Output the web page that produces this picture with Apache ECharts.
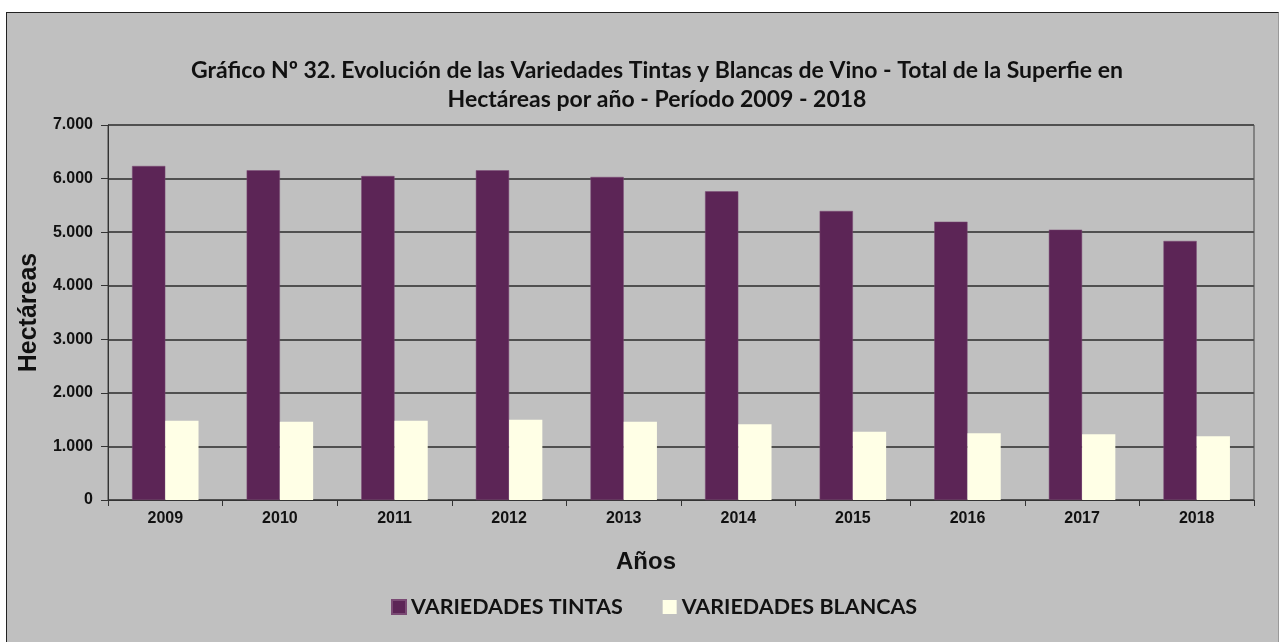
<!DOCTYPE html>
<html>
<head>
<meta charset="utf-8">
<script src="https://cdn.jsdelivr.net/npm/echarts@6/dist/echarts.min.js"></script>
<style>
  html, body { margin: 0; padding: 0; background: #fff; }
  .frame {
    position: absolute; left: 6px; top: 12px; width: 1273px; height: 630px;
    background: #c0c0c0; border-left: 1px solid #222; border-top: 1px solid #222;
    border-right: 1px solid #999; box-sizing: border-box;
  }
  #chart { position: absolute; left: 0; top: 0; width: 1279px; height: 642px; }
</style>
</head>
<body>
<div class="frame"></div>
<div id="chart"></div>
<script>
// data
const years = ['2009', '2010', '2011', '2012', '2013', '2014', '2015', '2016', '2017', '2018']
const tintas = [6235, 6155, 6048, 6155, 6030, 5762, 5395, 5195, 5046, 4835]
const blancas = [1480, 1462, 1480, 1499, 1462, 1413, 1275, 1245, 1226, 1189]

const titleText = 'Gráfico Nº 32. Evolución de las Variedades Tintas y Blancas de Vino - Total de la Superfie en\nHectáreas por año - Período 2009 - 2018'

// 7000 -> "7.000"
const fmt = v => String(v).replace(/\B(?=(\d{3})+(?!\d))/g, '.')

const chart = echarts.init(document.getElementById('chart'))

const option = {
  backgroundColor: 'transparent',
  animation: false,
  title: {
    text: titleText,
    left: 652,
    top: 51,
    textAlign: 'center',
    textStyle: {
      fontFamily: 'Lato',
      fontWeight: 'bold',
      fontSize: 23,
      lineHeight: 29,
      color: '#111'
    }
  },
  legend: {
    bottom: 19,
    left: 386,
    itemWidth: 14,
    itemHeight: 14,
    itemGap: 40,
    icon: 'rect',
    textStyle: { fontFamily: 'Lato', fontWeight: 'bold', fontSize: 21.5, color: '#111' }
  },
  grid: {
    left: 108,
    right: 25,
    top: 125,
    bottom: 142,
    show: true,
    borderColor: '#444',
    borderWidth: 1,
    backgroundColor: 'transparent'
  },
  xAxis: {
    type: 'category',
    data: years,
    name: 'Años',
    nameLocation: 'middle',
    nameGap: 50,
    nameTextStyle: {
      fontFamily: 'Liberation Sans', fontWeight: 'bold', fontSize: 24, color: '#111',
      padding: [0, 70, 0, 0]
    },
    axisLine: { lineStyle: { color: '#333', width: 1 } },
    axisTick: { show: true, length: 6, lineStyle: { color: '#333' } },
    axisLabel: { fontFamily: 'Liberation Sans', fontWeight: 'bold', fontSize: 16, color: '#111', margin: 11 }
  },
  yAxis: {
    type: 'value',
    min: 0,
    max: 7000,
    interval: 1000,
    name: 'Hectáreas',
    nameLocation: 'middle',
    nameRotate: 90,
    nameGap: 61,
    nameTextStyle: { fontFamily: 'Liberation Sans', fontWeight: 'bold', fontSize: 25, color: '#111' },
    axisLine: { show: true, lineStyle: { color: '#333', width: 1 } },
    axisTick: { show: true, length: 7, lineStyle: { color: '#333' } },
    axisLabel: {
      fontFamily: 'Liberation Sans', fontWeight: 'bold', fontSize: 16, color: '#111', margin: 15,
      formatter: fmt
    },
    splitLine: { lineStyle: { color: '#505050', width: 2 } }
  },
  series: [
    {
      name: 'VARIEDADES TINTAS',
      type: 'bar',
      data: tintas,
      barWidth: '29%',
      barGap: '0%',
      itemStyle: { color: '#5c2556', borderColor: '#7a4a74', borderWidth: 0.5 }
    },
    {
      name: 'VARIEDADES BLANCAS',
      type: 'bar',
      data: blancas,
      barWidth: '29%',
      itemStyle: { color: '#ffffe6' }
    }
  ]
}

chart.setOption(option)
window.addEventListener('resize', () => chart && chart.resize())
</script>
</body>
</html>
